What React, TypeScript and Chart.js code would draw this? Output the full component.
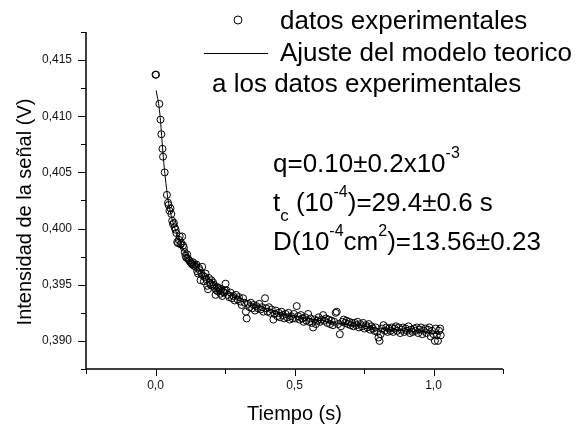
import React, { useEffect, useRef } from "react";
import { Chart, registerables } from "chart.js";

Chart.register(...registerables);

const FONT = "'Liberation Sans', Arial, Helvetica, sans-serif";

// Axis ranges and ticks
const xRange = [-0.25, 1.25];
const yRange = [0.3875, 0.4175];
const xMajorTicks = [0, 0.5, 1.0];
const xMinorTicks = [-0.25, 0.25, 0.75, 1.25];
const yMajorTicks = [0.39, 0.395, 0.4, 0.405, 0.41, 0.415];
const yMinorTicks = [0.3875, 0.3925, 0.3975, 0.4025, 0.4075, 0.4125, 0.4175];

// Texts
const xTitle = "Tiempo (s)";
const yTitle = "Intensidad de la señal (V)";
const legendLabels = ["datos experimentales", "Ajuste del modelo teorico", "a los datos experimentales"];
type Run = [string, "n" | "sup" | "sub"];
const annotationLines: Run[][] = [
  [["q=0.10±0.2x10", "n"], ["-3", "sup"]],
  [["t", "n"], ["c", "sub"], [" (10", "n"], ["-4", "sup"], [")=29.4±0.6 s", "n"]],
  [["D(10", "n"], ["-4", "sup"], ["cm", "n"], ["2", "sup"], [")=13.56±0.23", "n"]],
];

// Experimental data: [time (s), signal (V)]
const experimental: [number, number][] = [
  [0.000, 0.4137], [0.002, 0.4137], [0.014, 0.4111], [0.018, 0.4097], [0.021, 0.4084],
  [0.025, 0.4071], [0.027, 0.4064], [0.033, 0.4050], [0.041, 0.4030], [0.045, 0.4023],
  [0.047, 0.4021], [0.050, 0.4016], [0.054, 0.4018], [0.057, 0.4013], [0.060, 0.4007],
  [0.063, 0.4004], [0.066, 0.4005], [0.069, 0.4001], [0.072, 0.3999], [0.075, 0.3996],
  [0.078, 0.3988], [0.081, 0.3987], [0.084, 0.3990], [0.087, 0.3993], [0.090, 0.3986],
  [0.093, 0.3987], [0.096, 0.3993], [0.099, 0.3985], [0.102, 0.3983], [0.105, 0.3979],
  [0.108, 0.3976], [0.111, 0.3974], [0.114, 0.3977], [0.117, 0.3973], [0.120, 0.3972],
  [0.123, 0.3971], [0.126, 0.3970], [0.129, 0.3969], [0.132, 0.3968], [0.135, 0.3970],
  [0.138, 0.3967], [0.141, 0.3968], [0.144, 0.3966], [0.147, 0.3968], [0.150, 0.3962],
  [0.153, 0.3960], [0.156, 0.3965], [0.159, 0.3963], [0.162, 0.3954], [0.165, 0.3960],
  [0.168, 0.3966], [0.171, 0.3958], [0.174, 0.3953], [0.177, 0.3957], [0.180, 0.3960],
  [0.183, 0.3955], [0.186, 0.3949], [0.189, 0.3946], [0.192, 0.3956], [0.195, 0.3952],
  [0.198, 0.3950], [0.201, 0.3954], [0.204, 0.3949], [0.207, 0.3952], [0.210, 0.3950],
  [0.213, 0.3947], [0.216, 0.3941], [0.219, 0.3945], [0.222, 0.3948], [0.225, 0.3944],
  [0.228, 0.3947], [0.231, 0.3945], [0.234, 0.3942], [0.237, 0.3946], [0.240, 0.3940],
  [0.243, 0.3944], [0.246, 0.3943], [0.249, 0.3945], [0.252, 0.3951], [0.255, 0.3945],
  [0.260, 0.3941], [0.265, 0.3939], [0.270, 0.3943], [0.275, 0.3938], [0.280, 0.3940],
  [0.285, 0.3936], [0.290, 0.3941], [0.295, 0.3937], [0.300, 0.3939], [0.305, 0.3935],
  [0.310, 0.3932], [0.315, 0.3938], [0.320, 0.3934], [0.325, 0.3926], [0.328, 0.3920],
  [0.333, 0.3933], [0.338, 0.3930], [0.343, 0.3934], [0.348, 0.3929], [0.353, 0.3932],
  [0.358, 0.3927], [0.363, 0.3931], [0.368, 0.3929], [0.373, 0.3933], [0.378, 0.3928],
  [0.383, 0.3930], [0.388, 0.3926], [0.394, 0.3938], [0.398, 0.3929], [0.403, 0.3926],
  [0.408, 0.3930], [0.413, 0.3925], [0.418, 0.3928], [0.424, 0.3919], [0.428, 0.3924],
  [0.433, 0.3927], [0.438, 0.3922], [0.443, 0.3925], [0.448, 0.3921], [0.453, 0.3926],
  [0.458, 0.3923], [0.463, 0.3920], [0.468, 0.3924], [0.473, 0.3921], [0.478, 0.3925],
  [0.483, 0.3919], [0.488, 0.3922], [0.493, 0.3920], [0.498, 0.3924], [0.503, 0.3920],
  [0.508, 0.3931], [0.513, 0.3922], [0.518, 0.3919], [0.523, 0.3923], [0.528, 0.3920],
  [0.533, 0.3917], [0.538, 0.3921], [0.543, 0.3918], [0.549, 0.3924], [0.553, 0.3917],
  [0.558, 0.3920], [0.563, 0.3916], [0.567, 0.3912], [0.572, 0.3919], [0.577, 0.3915],
  [0.582, 0.3918], [0.587, 0.3921], [0.592, 0.3917], [0.597, 0.3919], [0.603, 0.3923],
  [0.608, 0.3918], [0.613, 0.3920], [0.618, 0.3916], [0.623, 0.3919], [0.628, 0.3915],
  [0.633, 0.3918], [0.638, 0.3914], [0.643, 0.3917], [0.648, 0.3925], [0.652, 0.3926],
  [0.657, 0.3915], [0.663, 0.3906], [0.667, 0.3913], [0.672, 0.3917], [0.677, 0.3919],
  [0.682, 0.3916], [0.687, 0.3918], [0.692, 0.3915], [0.697, 0.3917], [0.702, 0.3914],
  [0.707, 0.3916], [0.712, 0.3913], [0.717, 0.3916], [0.722, 0.3914], [0.727, 0.3917],
  [0.732, 0.3912], [0.737, 0.3915], [0.742, 0.3913], [0.747, 0.3916], [0.752, 0.3911],
  [0.757, 0.3914], [0.762, 0.3912], [0.767, 0.3915], [0.772, 0.3910], [0.777, 0.3913],
  [0.782, 0.3911], [0.787, 0.3909], [0.792, 0.3912], [0.797, 0.3908], [0.802, 0.3903],
  [0.806, 0.3900], [0.810, 0.3906], [0.815, 0.3911], [0.820, 0.3914], [0.825, 0.3909],
  [0.830, 0.3912], [0.835, 0.3908], [0.840, 0.3911], [0.845, 0.3909], [0.850, 0.3912],
  [0.855, 0.3908], [0.860, 0.3911], [0.865, 0.3913], [0.870, 0.3909], [0.875, 0.3912],
  [0.880, 0.3907], [0.885, 0.3910], [0.890, 0.3912], [0.895, 0.3908], [0.900, 0.3911],
  [0.905, 0.3909], [0.910, 0.3913], [0.915, 0.3907], [0.920, 0.3910], [0.925, 0.3908],
  [0.930, 0.3911], [0.935, 0.3909], [0.940, 0.3912], [0.945, 0.3907], [0.950, 0.3910],
  [0.955, 0.3912], [0.960, 0.3906], [0.965, 0.3909], [0.970, 0.3911], [0.975, 0.3907],
  [0.980, 0.3910], [0.985, 0.3912], [0.990, 0.3904], [0.995, 0.3909], [1.000, 0.3906],
  [1.005, 0.3900], [1.008, 0.3911], [1.012, 0.3905], [1.016, 0.3900], [1.020, 0.3909],
  [1.024, 0.3911], [1.026, 0.3905],
];

// Fitted model curve: [time (s), signal (V)]
const fitCurve: [number, number][] = [
  [0.0025, 0.4123], [0.006, 0.4118], [0.010, 0.4113], [0.014, 0.4106], [0.018, 0.4096],
  [0.022, 0.4083], [0.026, 0.4070], [0.030, 0.4058], [0.035, 0.4046], [0.040, 0.4035],
  [0.045, 0.4026], [0.050, 0.4019], [0.060, 0.4008], [0.070, 0.4000], [0.080, 0.3993],
  [0.090, 0.3987], [0.100, 0.3982], [0.120, 0.3974], [0.140, 0.3968], [0.160, 0.3963],
  [0.180, 0.3958], [0.200, 0.3954], [0.250, 0.3946], [0.300, 0.3939], [0.350, 0.3933],
  [0.400, 0.3929], [0.450, 0.3925], [0.500, 0.3922], [0.550, 0.3920], [0.600, 0.3918],
  [0.650, 0.3916], [0.700, 0.3914], [0.750, 0.3913], [0.800, 0.3911], [0.850, 0.3910],
  [0.900, 0.3909], [0.950, 0.3908], [1.000, 0.3907], [1.025, 0.3906],
];

const overlayPlugin = {
  id: "overlay",
  afterDraw(chart: any) {
    const ctx: CanvasRenderingContext2D = chart.ctx;
    const xs = chart.scales.x;
    const ys = chart.scales.y;
    const { left, right, top, bottom } = chart.chartArea;
    ctx.save();
    ctx.strokeStyle = "#000";
    ctx.fillStyle = "#000";

    // axis lines
    ctx.lineWidth = 1.5;
    ctx.beginPath();
    ctx.moveTo(left, top);
    ctx.lineTo(left, bottom);
    ctx.lineTo(right, bottom);
    ctx.stroke();

    // ticks
    ctx.lineWidth = 1;
    ctx.beginPath();
    yMajorTicks.forEach((v) => {
      const y = Math.round(ys.getPixelForValue(v)) + 0.5;
      ctx.moveTo(left - 8, y);
      ctx.lineTo(left, y);
    });
    yMinorTicks.forEach((v) => {
      const y = Math.round(ys.getPixelForValue(v)) + 0.5;
      ctx.moveTo(left - 5, y);
      ctx.lineTo(left, y);
    });
    xMajorTicks.forEach((v) => {
      const x = Math.round(xs.getPixelForValue(v)) + 0.5;
      ctx.moveTo(x, bottom);
      ctx.lineTo(x, bottom + 7);
    });
    xMinorTicks.forEach((v) => {
      const x = Math.round(xs.getPixelForValue(v)) + 0.5;
      ctx.moveTo(x, bottom);
      ctx.lineTo(x, bottom + 5);
    });
    ctx.stroke();

    // tick labels
    ctx.font = `12px ${FONT}`;
    ctx.fillStyle = "#111";
    ctx.textBaseline = "middle";
    ctx.textAlign = "right";
    yMajorTicks.forEach((v) => {
      ctx.fillText(v.toFixed(3).replace(".", ","), left - 14, ys.getPixelForValue(v));
    });
    ctx.textAlign = "center";
    xMajorTicks.forEach((v) => {
      ctx.fillText(v.toFixed(1).replace(".", ","), xs.getPixelForValue(v), bottom + 17);
    });
    ctx.fillStyle = "#000";

    // axis titles
    ctx.font = `20px ${FONT}`;
    ctx.textBaseline = "alphabetic";
    ctx.textAlign = "center";
    ctx.fillText(xTitle, (left + right) / 2, 420);
    ctx.save();
    ctx.translate(31, 212);
    ctx.rotate(-Math.PI / 2);
    ctx.fillText(yTitle, 0, 0);
    ctx.restore();

    // legend
    ctx.textAlign = "left";
    ctx.font = `26px ${FONT}`;
    ctx.lineWidth = 1;
    ctx.beginPath();
    ctx.arc(238, 20, 4, 0, Math.PI * 2);
    ctx.stroke();
    ctx.fillText(legendLabels[0], 280, 29);
    ctx.beginPath();
    ctx.moveTo(204, 53.5);
    ctx.lineTo(268, 53.5);
    ctx.stroke();
    ctx.fillText(legendLabels[1], 280, 61);
    ctx.fillText(legendLabels[2], 212, 92);

    // annotations
    const baselines = [172, 211, 250];
    annotationLines.forEach((runs, i) => {
      let x = 273;
      const base = baselines[i];
      runs.forEach(([text, kind]) => {
        let size = 26;
        let dy = 0;
        if (kind === "sup") { size = 16; dy = -14; }
        if (kind === "sub") { size = 17; dy = 10; }
        ctx.font = `${size}px ${FONT}`;
        ctx.fillText(text, x, base + dy);
        x += ctx.measureText(text).width;
      });
    });

    ctx.restore();
  },
};

export default function App() {
  const canvasRef = useRef<HTMLCanvasElement | null>(null);

  useEffect(() => {
    if (!canvasRef.current) return;
    const chart = new Chart(canvasRef.current, {
      type: "scatter",
      data: {
        datasets: [
          {
            label: "Ajuste",
            data: fitCurve.map(([x, y]) => ({ x, y })),
            showLine: true,
            borderColor: "#000",
            borderWidth: 1,
            pointRadius: 0,
            cubicInterpolationMode: "monotone",
            backgroundColor: "transparent",
          } as any,
          {
            label: "datos",
            data: experimental.map(([x, y]) => ({ x, y })),
            showLine: false,
            pointRadius: 3.5,
            pointStyle: "circle",
            borderColor: "#000",
            borderWidth: 1,
            backgroundColor: "rgba(0,0,0,0)",
          },
        ],
      },
      options: {
        animation: false,
        responsive: false,
        maintainAspectRatio: false,
        devicePixelRatio: 1,
        layout: { padding: { left: 0, top: 32, right: 76, bottom: 0 } },
        plugins: { legend: { display: false }, tooltip: { enabled: false } },
        events: [],
        scales: {
          x: {
            type: "linear",
            min: xRange[0],
            max: xRange[1],
            grid: { display: false },
            border: { display: false },
            ticks: { display: false },
            afterFit: (scale: any) => {
              scale.height = 57;
            },
          },
          y: {
            type: "linear",
            min: yRange[0],
            max: yRange[1],
            grid: { display: false },
            border: { display: false },
            ticks: { display: false },
            afterFit: (scale: any) => {
              scale.width = 86;
            },
          },
        },
      },
      plugins: [overlayPlugin],
    });
    return () => chart.destroy();
  }, []);

  return (
    <div style={{ position: "absolute", left: 0, top: 0, width: 579, height: 426, background: "#fff" }}>
      <canvas ref={canvasRef} width={579} height={426} style={{ width: 579, height: 426 }} />
    </div>
  );
}
